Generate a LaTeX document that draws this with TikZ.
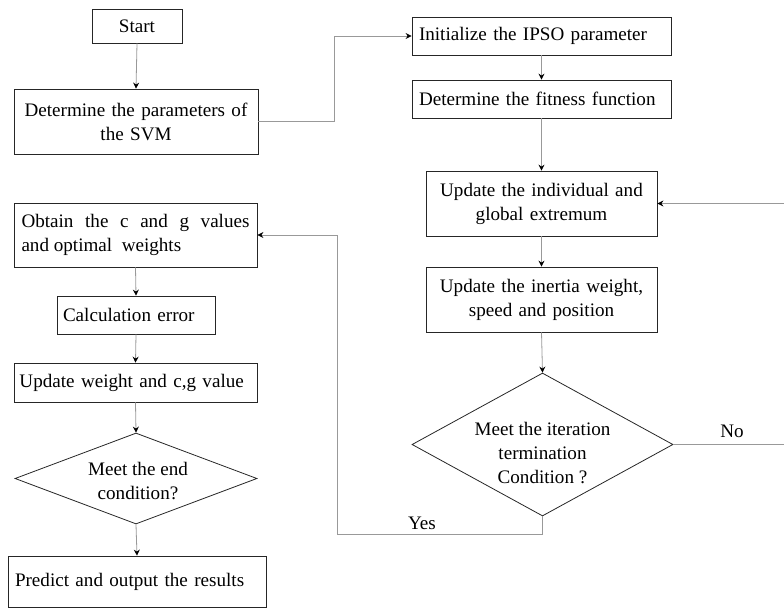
\documentclass[tikz,border=0pt]{standalone}
\usepackage{fontspec}
\setmainfont{Liberation Serif}
\usetikzlibrary{arrows.meta,shapes.geometric}
\begin{document}
\begin{tikzpicture}[x=1pt,y=-1pt,
 box/.style={draw=black!85, line width=0.8pt, inner sep=0pt, align=center, font=\fontsize{19.1}{24}\selectfont},
 dia/.style={draw=black!85, line width=0.8pt, shape=diamond, inner sep=0pt},
 txt/.style={font=\fontsize{19.1}{24}\selectfont, align=center, inner sep=0pt},
 conn/.style={draw=black!40, line width=0.8pt},
 arr/.style={conn, -{Stealth[length=6pt,width=6pt,inset=2pt,color=black]}}
]
\useasboundingbox (0,0) rectangle (784,608);

\node[box, minimum width=90pt, minimum height=34pt] (start) at (137,26) {Start};
\node[box, minimum width=244pt, minimum height=65pt, text width=236pt] (svm) at (136,121.5) {Determine the parameters of\\the SVM};
\node[box, minimum width=259pt, minimum height=38pt, text width=245pt, align=left] (init) at (541.5,36) {Initialize the IPSO parameter};
\node[box, minimum width=259pt, minimum height=38pt, text width=245pt, align=left] (fit) at (541.5,99) {Determine the fitness function};
\node[box, minimum width=231pt, minimum height=65pt, text width=224pt] (ind) at (541.5,203.5) {Update the individual and\\global extremum};
\node[box, minimum width=231pt, minimum height=65pt, text width=224pt] (inr) at (541.5,299.5) {Update the inertia weight,\\speed and position};
\node[dia, minimum width=261pt, minimum height=143pt] (iter) at (542.5,444.5) {};
\node[txt] (itext) at (542.5,453) {Meet the iteration\\termination\\Condition ?};

\node[box, minimum width=243pt, minimum height=64pt, text width=228pt, align=justify] (obt) at (135.5,235) {Obtain the c and g values\linebreak and optimal\ \ weights};
\node[box, minimum width=158pt, minimum height=38pt, text width=146pt, align=left] (calc) at (136,315) {Calculation error};
\node[box, minimum width=243pt, minimum height=39pt, text width=232pt, align=left] (upd) at (135.5,382.5) {Update weight and c,g value};
\node[dia, minimum width=242pt, minimum height=91pt] (end) at (136,478.5) {};
\node[txt] (etext) at (138,481) {Meet the end\\condition?};
\node[box, minimum width=258pt, minimum height=51pt, text width=244pt, align=left] (pred) at (137,581.5) {Predict and output the results};

\node[txt] (no) at (732,431) {No};
\node[txt] (yes) at (422,523) {Yes};

\coordinate (rt) at (786,0);
\coordinate (yl) at (337,534);

\draw[arr] (start.south) -- (svm.north);
\draw[arr] (svm.east) -| ([xshift=-77pt]init.west) -- (init.west);
\draw[arr] (init.south) -- (fit.north);
\draw[arr] (fit.south) -- (ind.north);
\draw[arr] (ind.south) -- (inr.north);
\draw[arr] (inr.south) -- (iter.north);
\draw[arr] (iter.east) -- (iter.east -| rt) -- (ind.east -| rt) -- (ind.east);
\draw[arr] (iter.south) |- (yl) |- (obt.east);
\draw[arr] (obt.south) -- (calc.north);
\draw[arr] (calc.south) -- (upd.north);
\draw[arr] (upd.south) -- (end.north);
\draw[arr] (end.south) -- (pred.north);
\end{tikzpicture}
\end{document}
